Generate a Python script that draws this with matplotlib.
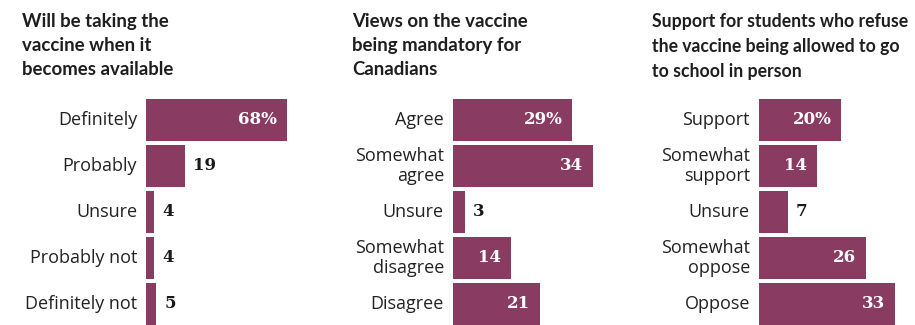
import matplotlib
matplotlib.use("Agg")
import matplotlib.pyplot as plt

titles = ["Will be taking the\nvaccine when it\nbecomes available",
          "Views on the vaccine\nbeing mandatory for\nCanadians",
          "Support for students who refuse\nthe vaccine being allowed to go\nto school in person"]
cats1 = ["Definitely", "Probably", "Unsure", "Probably not", "Definitely not"]
vals1 = [68, 19, 4, 4, 5]
cats2 = ["Agree", "Somewhat\nagree", "Unsure", "Somewhat\ndisagree", "Disagree"]
vals2 = [29, 34, 3, 14, 21]
cats3 = ["Support", "Somewhat\nsupport", "Unsure", "Somewhat\noppose", "Oppose"]
vals3 = [20, 14, 7, 26, 33]

W, H = 915, 325
BAR = '#8a3b61'
fig = plt.figure(figsize=(W/100, H/100), dpi=100)

panels = [
    (cats1, vals1, titles[0], 146, 150, 2.07, 22, 13.4),
    (cats2, vals2, titles[1], 453, 150, 4.12, 352, 13.4),
    (cats3, vals3, titles[2], 759, 152, 4.12, 652, 12.7),
]
pitch = 46.0
top_center = 120
ax_top = top_center - pitch/2
ax_bot = ax_top + 5*pitch

for cats, vals, title, x0, wpx, scale, tx, tfs in panels:
    ax = fig.add_axes([x0/W, 1 - ax_bot/H, wpx/W, 5*pitch/H])
    ax.set_xlim(0, wpx/scale)
    ax.set_ylim(4.5, -0.5)
    ax.barh(range(len(vals)), vals, height=0.9, color=BAR, clip_on=False)
    ax.axis('off')
    for i, (c, v) in enumerate(zip(cats, vals)):
        ax.annotate(c, (0, i), xytext=(-9, 0), textcoords='offset pixels',
                    ha='right', va='center', fontsize=13, family='Open Sans',
                    color='#222222', linespacing=1.1)
        lab = f"{v}%" if i == 0 else f"{v}"
        if v*scale > 50:
            ax.annotate(lab, (v, i), xytext=(-10, 0), textcoords='offset pixels',
                        ha='right', va='center', fontsize=12, family='DejaVu Serif',
                        weight='heavy', color='white')
        else:
            ax.annotate(lab, (v, i), xytext=(8, 0), textcoords='offset pixels',
                        ha='left', va='center', fontsize=12, family='DejaVu Serif',
                        weight='heavy', color='#1a1a1a')
    fig.text(tx/W, 1 - 13/H, title, ha='left', va='top', fontsize=tfs,
             family='Lato', weight='bold', color='#1e1e1e',
             linespacing=1.5 * 13.4 / tfs)

fig.savefig('out.png', dpi=100)
